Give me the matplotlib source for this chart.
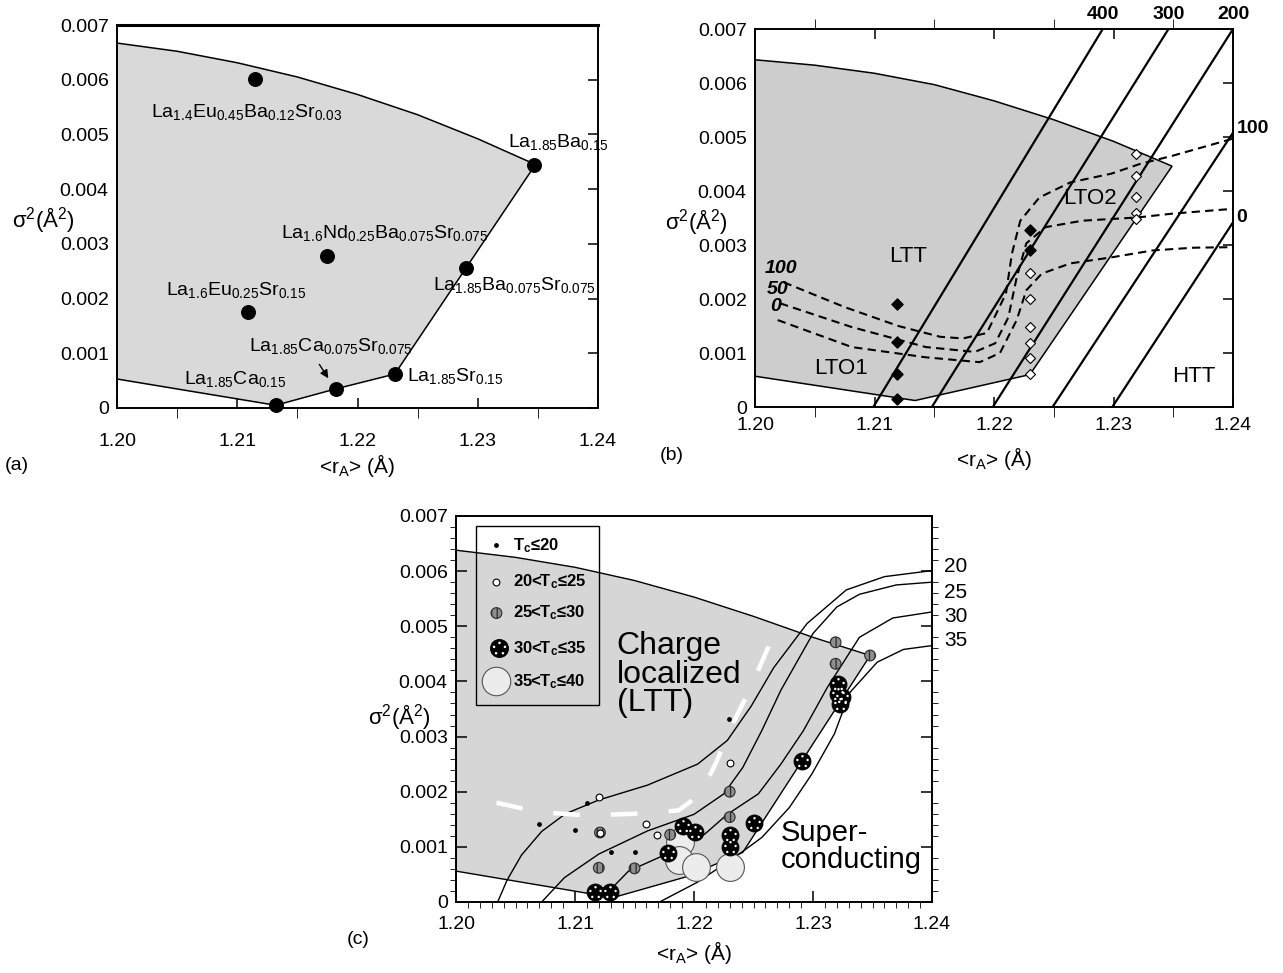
import matplotlib.pyplot as plt
import numpy as np
from matplotlib.path import Path
from matplotlib.patches import Rectangle
from matplotlib.ticker import MultipleLocator

plt.rcParams['font.family'] = ['Liberation Sans', 'DejaVu Sans']
plt.rcParams['mathtext.fontset'] = 'custom'
plt.rcParams['mathtext.rm'] = 'Liberation Sans'
plt.rcParams['mathtext.it'] = 'Liberation Sans:italic'
plt.rcParams['mathtext.bf'] = 'Liberation Sans:bold'
plt.rcParams['hatch.linewidth'] = 0.9

# Shared axis ticks.
x_ticks = [1.20, 1.21, 1.22, 1.23, 1.24]
x_ticklabels = ["1.20", "1.21", "1.22", "1.23", "1.24"]
y_ticks = [0, 0.001, 0.002, 0.003, 0.004, 0.005, 0.006, 0.007]
y_ticklabels = ["0", "0.001", "0.002", "0.003", "0.004", "0.005", "0.006", "0.007"]

# Panel (a): compounds.
a_names = [r"La$_{1.4}$Eu$_{0.45}$Ba$_{0.12}$Sr$_{0.03}$",
           r"La$_{1.85}$Ba$_{0.15}$",
           r"La$_{1.6}$Nd$_{0.25}$Ba$_{0.075}$Sr$_{0.075}$",
           r"La$_{1.85}$Ba$_{0.075}$Sr$_{0.075}$",
           r"La$_{1.6}$Eu$_{0.25}$Sr$_{0.15}$",
           r"La$_{1.85}$Sr$_{0.15}$",
           r"La$_{1.85}$Ca$_{0.075}$Sr$_{0.075}$",
           r"La$_{1.85}$Ca$_{0.15}$"]
a_x = [1.2115, 1.2347, 1.2175, 1.2290, 1.2109, 1.2231, 1.2182, 1.2132]
a_y = [0.00601, 0.00445, 0.00277, 0.00256, 0.00175, 0.00062, 0.00035, 0.00006]
a_label_x = [1.2028, 1.2325, 1.2136, 1.2263, 1.2041, 1.2241, 1.2110, 1.2056]
a_label_y = [0.00532, 0.00477, 0.00311, 0.00215, 0.00206, 0.00050, 0.00105, 0.00044]

# Boundary of the shaded region (upper curve, then lower edge back to the left).
a_region_x = [1.20, 1.205, 1.21, 1.215, 1.22, 1.225, 1.23, 1.2348,
              1.2231, 1.2182, 1.2132, 1.20]
a_region_y = [0.00667, 0.00652, 0.00631, 0.00605, 0.00573, 0.00536, 0.00492, 0.00445,
              0.00062, 0.00035, 0.00005, 0.00053]
b_region_x = [1.20, 1.205, 1.21, 1.215, 1.22, 1.225, 1.23, 1.2349,
              1.2230, 1.2134, 1.20]
b_region_y = [0.00643, 0.00633, 0.00618, 0.00597, 0.00567, 0.00532, 0.00492, 0.00446,
              0.00060, 0.00012, 0.00057]
c_region_x = [1.20, 1.205, 1.21, 1.215, 1.22, 1.225, 1.23, 1.2348,
              1.2241, 1.2194, 1.2132, 1.20]
c_region_y = [0.00638, 0.00625, 0.00607, 0.00583, 0.00553, 0.00518, 0.00480, 0.00447,
              0.00090, 0.00046, 0.00008, 0.00056]

# Panel (b): isotherms (x at sigma2=0, end point).
iso_labels = ["400", "300", "200", "100", "0"]
iso_x0 = [1.2099, 1.2148, 1.2199, 1.2249, 1.2299]
iso_x1 = [1.2291, 1.2346, 1.2400, 1.2400, 1.2400]
iso_y1 = [0.00700, 0.00700, 0.00700, 0.00508, 0.00342]

# Panel (b): dashed LTT/LTO2 boundaries for 100, 50, 0.
dash100_x = [1.2024, 1.2075, 1.2120, 1.2155, 1.2174, 1.2194, 1.2210, 1.2215, 1.2222,
             1.2238, 1.2264, 1.2298, 1.2322, 1.2349, 1.2400]
dash100_y = [0.00231, 0.00185, 0.00150, 0.00130, 0.00127, 0.00137, 0.00210, 0.00284,
             0.00345, 0.00388, 0.00416, 0.00432, 0.00450, 0.00465, 0.00497]
dash50_x = [1.2021, 1.2081, 1.2143, 1.2184, 1.2201, 1.2212, 1.2219, 1.2227, 1.2243,
            1.2274, 1.2320, 1.2349, 1.2400]
dash50_y = [0.00192, 0.00148, 0.00111, 0.00102, 0.00118, 0.00166, 0.00240, 0.00303,
            0.00333, 0.00345, 0.00351, 0.00358, 0.00367]
dash0_x = [1.2019, 1.2081, 1.2143, 1.2188, 1.2205, 1.2219, 1.2227, 1.2240, 1.2264,
           1.2298, 1.2333, 1.2367, 1.2400]
dash0_y = [0.00161, 0.00111, 0.00092, 0.00083, 0.00100, 0.00161, 0.00216, 0.00247,
           0.00266, 0.00277, 0.00290, 0.00295, 0.00296]

# Panel (b): measured samples.
b_filled_x = [1.2119, 1.2119, 1.2119, 1.2119, 1.2230, 1.2230]
b_filled_y = [0.00190, 0.00120, 0.00061, 0.00015, 0.00328, 0.00290]
b_open_x = [1.2230, 1.2230, 1.2230, 1.2230, 1.2230, 1.2230,
            1.2319, 1.2319, 1.2319, 1.2319, 1.2319]
b_open_y = [0.00248, 0.00200, 0.00148, 0.00118, 0.00090, 0.00061,
            0.00469, 0.00428, 0.00388, 0.00360, 0.00349]

# Panel (c): Tc contours.
tc_labels = ["20", "25", "30", "35"]
tc20_x = [1.2035, 1.2043, 1.2055, 1.2072, 1.2092, 1.2120, 1.2161, 1.2203, 1.2228,
          1.2248, 1.2267, 1.2295, 1.2328, 1.2360, 1.2400]
tc20_y = [0.0, 0.00040, 0.00085, 0.00128, 0.00160, 0.00185, 0.00212, 0.00250, 0.00293,
          0.00355, 0.00425, 0.00505, 0.00566, 0.00590, 0.00601]
tc25_x = [1.2072, 1.2091, 1.2120, 1.2161, 1.2200, 1.2225, 1.2241, 1.2257, 1.2273,
          1.2300, 1.2320, 1.2339, 1.2370, 1.2400]
tc25_y = [0.0, 0.00044, 0.00087, 0.00129, 0.00159, 0.00196, 0.00244, 0.00311, 0.00384,
          0.00487, 0.00535, 0.00558, 0.00575, 0.00580]
tc30_x = [1.2126, 1.2145, 1.2177, 1.2209, 1.2228, 1.2254, 1.2273, 1.2292, 1.2312,
          1.2339, 1.2367, 1.2400]
tc30_y = [0.00014, 0.00056, 0.00087, 0.00123, 0.00159, 0.00196, 0.00250, 0.00311,
          0.00389, 0.00480, 0.00515, 0.00526]
tc35_x = [1.2171, 1.2203, 1.2238, 1.2257, 1.2280, 1.2299, 1.2318, 1.2331, 1.2354,
          1.2376, 1.2400]
tc35_y = [0.0, 0.00036, 0.00087, 0.00117, 0.00171, 0.00232, 0.00305, 0.00380, 0.00435,
          0.00458, 0.00465]
tc_label_y = [0.00608, 0.00562, 0.00517, 0.00475]

# Panel (c): white dashed LTT border.
white_x = [1.2034, 1.2070, 1.2110, 1.2150, 1.2187, 1.2205, 1.2218, 1.2232, 1.2250,
           1.2262, 1.2272]
white_y = [0.00180, 0.00163, 0.00157, 0.00160, 0.00166, 0.00195, 0.00250, 0.00320,
           0.00400, 0.00460, 0.00515]

# Panel (c): samples grouped by Tc.
c_dot_x = [1.2070, 1.2100, 1.2110, 1.2130, 1.2150, 1.2229]
c_dot_y = [0.00141, 0.00131, 0.00180, 0.00090, 0.00090, 0.00332]
c_open_x = [1.2120, 1.2160, 1.2169, 1.2230, 1.2121]
c_open_y = [0.00190, 0.00141, 0.00122, 0.00252, 0.00126]
c_hatch_x = [1.2121, 1.2120, 1.2150, 1.2180, 1.2230, 1.2230, 1.2319, 1.2319, 1.2348]
c_hatch_y = [0.00126, 0.00062, 0.00061, 0.00122, 0.00200, 0.00154, 0.00471, 0.00432, 0.00447]
c_black_x = [1.2117, 1.2129, 1.2178, 1.2191, 1.2201, 1.2230, 1.2230, 1.2250, 1.2291,
             1.2321, 1.2321, 1.2323, 1.2324]
c_black_y = [0.00019, 0.00019, 0.00089, 0.00137, 0.00127, 0.00122, 0.00100, 0.00143,
             0.00256, 0.00396, 0.00377, 0.00359, 0.00371]
c_light_x = [1.2188, 1.2187, 1.2202, 1.2230]
c_light_y = [0.00109, 0.00076, 0.00063, 0.00063]
legend_labels = [r"T$_\mathbf{c}$≤20", r"20<T$_\mathbf{c}$≤25", r"25<T$_\mathbf{c}$≤30",
                 r"30<T$_\mathbf{c}$≤35", r"35<T$_\mathbf{c}$≤40"]
legend_y = [0.00647, 0.00581, 0.00524, 0.00460, 0.00400]

# White spots on the 30<Tc<=35 markers.
spot_centres = [(0.0, 0.62), (-0.6, 0.18), (-0.38, -0.52), (0.38, -0.52), (0.6, 0.18)]
spot_marker = Path.make_compound_path(*[Path.circle(c, 0.14) for c in spot_centres])
spot_scale = 0.76 ** 2


def frame(ax, xpad):
    ax.set_xlim(1.20, 1.24)
    ax.set_ylim(0, 0.007)
    ax.set_xticks(x_ticks, x_ticklabels)
    ax.set_yticks(y_ticks, y_ticklabels)
    for s in ax.spines.values():
        s.set_linewidth(1.4)
    ax.tick_params(labelsize=14, direction='in', width=1.1)
    ax.tick_params(axis='x', which='both', pad=xpad)
    ax.tick_params(axis='y', pad=6)


def labels(ax, xl_y, yl_x, yl_y):
    ax.set_xlabel(r"<r$_\mathrm{A}$> (Å)", fontsize=15)
    ax.xaxis.set_label_coords(0.5, xl_y)
    ax.xaxis.label.set_va('center')
    ax.set_ylabel(r"σ$^2$(Å$^2$)", fontsize=16, rotation=0, ha='left', va='center')
    ax.yaxis.set_label_coords(yl_x, yl_y)


def black_markers(ax, x, y, s):
    ax.scatter(x, y, s=s, color='black', edgecolors='black', linewidths=0.6, zorder=5)
    ax.scatter(x, y, s=s * spot_scale, marker=spot_marker, color='white',
               linewidths=0, zorder=6)


fig = plt.figure(figsize=(12.83, 9.73), dpi=100)

# ---------------- (a) ----------------
ax_a = fig.add_axes([117 / 1283, 1 - 408 / 973, 481 / 1283, 383 / 973])
frame(ax_a, 18)
ax_a.set_xticks([1.205, 1.215, 1.225, 1.235], minor=True)
ax_a.tick_params(axis='x', which='both', length=7, top=False)
ax_a.tick_params(axis='y', left=False, right=True, length=7)
ax_a.spines['top'].set_linewidth(2.2)
ax_a.fill(a_region_x, a_region_y, facecolor='#d9d9d9', edgecolor='black', lw=1.1, zorder=1)
ax_a.scatter(a_x, a_y, s=95, color='black', zorder=4, clip_on=False)
for name, tx, ty in zip(a_names, a_label_x, a_label_y):
    ax_a.text(tx, ty, name, fontsize=14, ha='left', va='baseline', clip_on=False)
ax_a.annotate('', xy=(1.2177, 0.00050), xytext=(1.2167, 0.00084),
              arrowprops=dict(arrowstyle='-|>', color='black', lw=1, mutation_scale=12))
labels(ax_a, -0.149, -0.218, 0.491)
fig.text(5 / 1283, 1 - 465 / 973, "(a)", fontsize=14, va='center')

# ---------------- (b) ----------------
ax_b = fig.add_axes([755 / 1283, 1 - 407 / 973, 478 / 1283, 378 / 973])
frame(ax_b, 7)
ax_b.xaxis.set_minor_locator(MultipleLocator(0.005))
ax_b.tick_params(axis='x', which='both', length=7, top=True)
ax_b.tick_params(axis='y', left=False, right=True, length=7)
ax_b.fill(b_region_x, b_region_y, facecolor='#cdcdcd', edgecolor='black', lw=1.1, zorder=1)
for x0, x1, y1 in zip(iso_x0, iso_x1, iso_y1):
    ax_b.plot([x0, x1], [0, y1], color='black', lw=1.6, zorder=2)
for lab, x1, y1 in zip(iso_labels, iso_x1, iso_y1):
    if y1 >= 0.007:
        ax_b.text(x1, 0.00726, lab, ha='center', va='center', fontsize=14,
                  fontweight='bold', clip_on=False)
    else:
        ax_b.text(1.2403, y1 + 0.00008, lab, ha='left', va='center', fontsize=14,
                  fontweight='bold', clip_on=False)
for dx, dy in [(dash100_x, dash100_y), (dash50_x, dash50_y), (dash0_x, dash0_y)]:
    ax_b.plot(dx, dy, color='black', lw=1.5, dashes=(4, 2.5), zorder=3)
for lab, dx, dy in [("100", dash100_x, dash100_y), ("50", dash50_x, dash50_y),
                    ("0", dash0_x, dash0_y)]:
    ax_b.text(dx[0] - 0.0002, dy[0] + 0.00026, lab, ha='center', va='center',
              fontsize=14, fontweight='bold', style='italic')
ax_b.scatter(b_filled_x, b_filled_y, marker='D', s=32, color='black', zorder=4)
ax_b.scatter(b_open_x, b_open_y, marker='D', s=26, facecolor='white',
             edgecolor='black', linewidths=0.8, zorder=4)
ax_b.text(1.2128, 0.00278, "LTT", fontsize=16, ha='center', va='center')
ax_b.text(1.2072, 0.00072, "LTO1", fontsize=16, ha='center', va='center')
ax_b.text(1.2280, 0.00386, "LTO2", fontsize=16, ha='center', va='center')
ax_b.text(1.2367, 0.00056, "HTT", fontsize=16, ha='center', va='center')
labels(ax_b, -0.135, -0.188, 0.488)
fig.text(660 / 1283, 1 - 455 / 973, "(b)", fontsize=14, va='center')

# ---------------- (c) ----------------
ax_c = fig.add_axes([456 / 1283, 1 - 902 / 973, 476 / 1283, 386 / 973])
frame(ax_c, 10)
ax_c.xaxis.set_minor_locator(MultipleLocator(0.001))
ax_c.yaxis.set_minor_locator(MultipleLocator(0.0002))
ax_c.tick_params(axis='x', which='major', length=8, top=False)
ax_c.tick_params(axis='x', which='minor', length=4, top=False)
ax_c.tick_params(axis='y', which='major', left=True, right=True, length=8)
ax_c.tick_params(axis='y', which='minor', left=True, right=True, length=4)
ax_c.fill(c_region_x, c_region_y, facecolor='#d6d6d6', edgecolor='black', lw=1.0, zorder=1)
for tx, ty in [(tc20_x, tc20_y), (tc25_x, tc25_y), (tc30_x, tc30_y), (tc35_x, tc35_y)]:
    ax_c.plot(tx, ty, color='black', lw=1.0, zorder=2)
for lab, ly in zip(tc_labels, tc_label_y):
    ax_c.text(1.2410, ly, lab, fontsize=15, ha='left', va='center', clip_on=False)
ax_c.plot(white_x, white_y, color='white', lw=3.2, dashes=(6, 7), zorder=2.5)

ax_c.scatter(c_light_x, c_light_y, s=400, facecolor='#ececec', edgecolor='#555555',
             linewidths=0.8, zorder=3)
ax_c.scatter(c_hatch_x, c_hatch_y, s=60, facecolor='#8e8e8e', edgecolor='#2a2a2a',
             hatch='|||', linewidths=0.8, zorder=4)
black_markers(ax_c, c_black_x, c_black_y, 150)
ax_c.scatter(c_open_x, c_open_y, s=24, facecolor='white', edgecolor='black',
             linewidths=0.8, zorder=7)
ax_c.scatter(c_dot_x, c_dot_y, s=6, color='black', zorder=7)

# Hand-drawn legend box.
ax_c.add_patch(Rectangle((1.2017, 0.00358), 0.0103, 0.00324, fill=False,
                         edgecolor='black', lw=1.0, zorder=8))
lx = 1.2034
ax_c.scatter([lx], [legend_y[0]], s=6, color='black', zorder=9)
ax_c.scatter([lx], [legend_y[1]], s=24, facecolor='white', edgecolor='black',
             linewidths=0.8, zorder=9)
ax_c.scatter([lx], [legend_y[2]], s=60, facecolor='#8e8e8e', edgecolor='#2a2a2a',
             hatch='|||', linewidths=0.8, zorder=9)
black_markers(ax_c, [lx + 0.0002], [legend_y[3]], 170)
ax_c.scatter([lx], [legend_y[4]], s=420, facecolor='#ececec', edgecolor='#555555',
             linewidths=0.8, zorder=9)
for lab, ly in zip(legend_labels, legend_y):
    ax_c.text(1.2048, ly, lab, fontsize=12, fontweight='bold', ha='left', va='center',
              zorder=10)

ax_c.text(1.2135, 0.00492, "Charge\nlocalized\n(LTT)", fontsize=23, ha='left', va='top',
          linespacing=0.95, zorder=9)
ax_c.text(1.2273, 0.00150, "Super-\nconducting", fontsize=21, ha='left', va='top',
          linespacing=0.95, zorder=9)
labels(ax_c, -0.130, -0.185, 0.479)
fig.text(347 / 1283, 1 - 940 / 973, "(c)", fontsize=14, va='center')

fig.savefig("out.png", dpi=100)
